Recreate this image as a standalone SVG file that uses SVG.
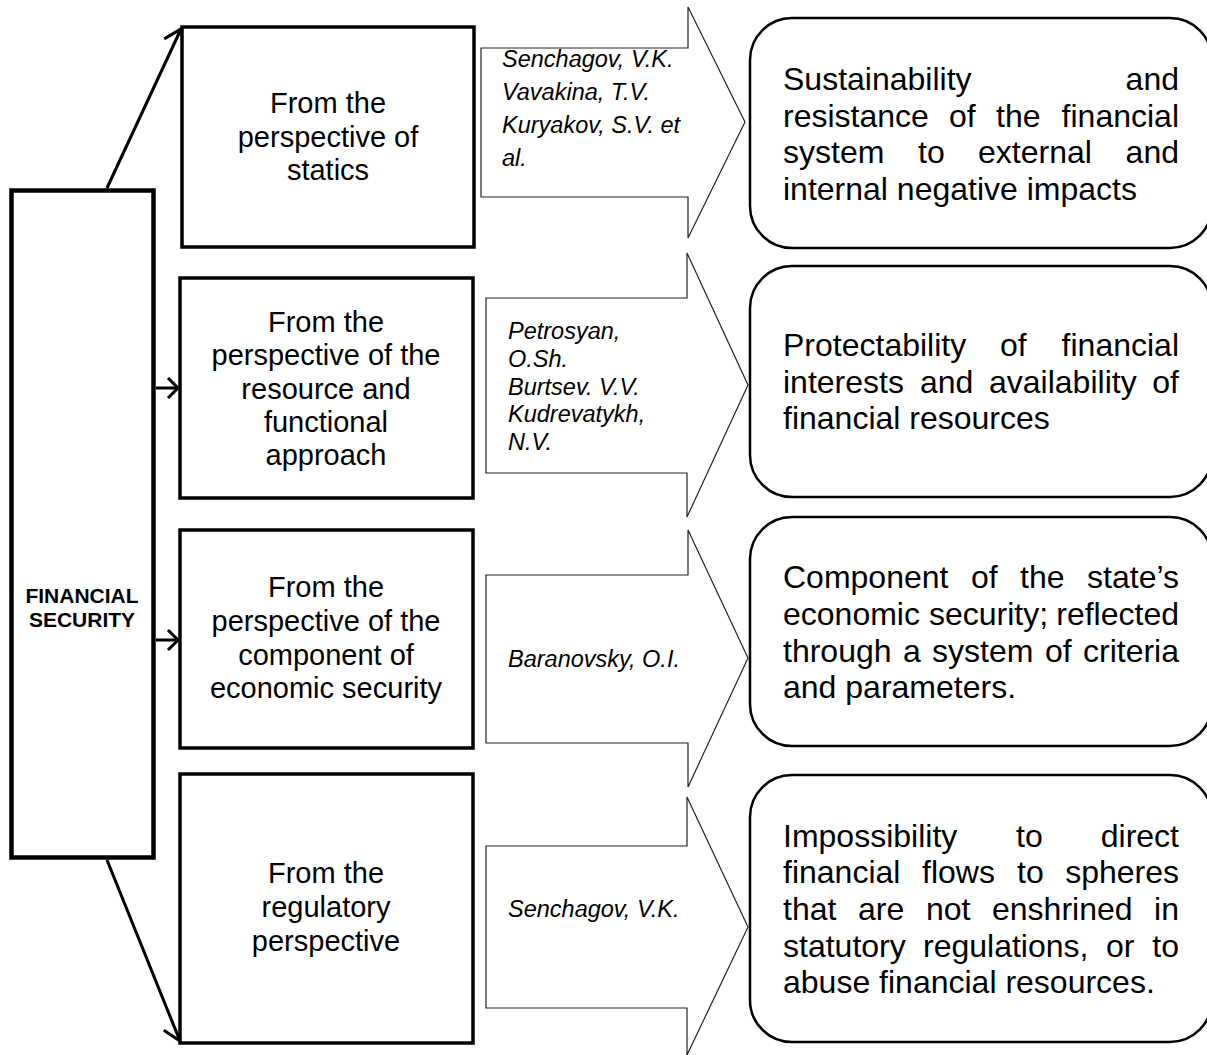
<svg xmlns="http://www.w3.org/2000/svg" width="1207" height="1055" viewBox="0 0 1207 1055">
<defs>
<style>
.mid{fill:#fff;stroke:#000;stroke-width:3.5}
.main{fill:#fff;stroke:#000;stroke-width:4.5}
.blk{fill:#fff;stroke:#222;stroke-width:1.2;stroke-linejoin:miter}
.res{fill:#fff;stroke:#000;stroke-width:2.5}
.conn{fill:none;stroke:#000;stroke-width:3}
.t29{font-family:"Liberation Sans",Arial,sans-serif;font-size:29px;fill:#000;text-anchor:middle}
.t32{font-family:"Liberation Sans",Arial,sans-serif;font-size:32px;fill:#000}
.it{font-family:"Liberation Sans",Arial,sans-serif;font-size:23.5px;font-style:italic;fill:#000}
.fs{font-family:"Liberation Sans",Arial,sans-serif;font-size:21px;font-weight:bold;fill:#000;text-anchor:middle}
.e{text-anchor:end}
</style>
<marker id="ahBig" markerUnits="userSpaceOnUse" markerWidth="30" markerHeight="30" refX="20" refY="15" orient="auto">
<path d="M4,4 L20,15 L4,26" fill="none" stroke="#000" stroke-width="3"/>
</marker>
<marker id="ahSmall" markerUnits="userSpaceOnUse" markerWidth="30" markerHeight="30" refX="20" refY="15" orient="auto">
<path d="M10,5 L20,15 L10,25" fill="none" stroke="#000" stroke-width="3"/>
</marker>
</defs>
<rect width="1207" height="1055" fill="#fff"/>

<g id="connectors">
<line class="conn" x1="107" y1="188" x2="181" y2="29" marker-end="url(#ahBig)"/>
<line class="conn" x1="156" y1="388" x2="178" y2="388" marker-end="url(#ahSmall)"/>
<line class="conn" x1="156" y1="640" x2="178" y2="640" marker-end="url(#ahSmall)"/>
<line class="conn" x1="107" y1="860" x2="180" y2="1041" marker-end="url(#ahBig)"/>
</g>

<g id="financial-security">
<rect class="main" x="11.5" y="190.5" width="142" height="667"/>
<text class="fs" x="82" y="603">FINANCIAL</text>
<text class="fs" x="82" y="627">SECURITY</text>
</g>

<g id="statics">
<rect class="mid" x="182" y="27" width="292" height="220"/>
<text class="t29" x="328" y="113">From the</text>
<text class="t29" x="328" y="147">perspective of</text>
<text class="t29" x="328" y="180">statics</text>
</g>

<g id="resource">
<rect class="mid" x="180" y="278" width="293" height="220"/>
<text class="t29" x="326" y="332">From the</text>
<text class="t29" x="326" y="365">perspective of the</text>
<text class="t29" x="326" y="399">resource and</text>
<text class="t29" x="326" y="432">functional</text>
<text class="t29" x="326" y="465">approach</text>
</g>

<g id="component">
<rect class="mid" x="180" y="530" width="293" height="218"/>
<text class="t29" x="326" y="597">From the</text>
<text class="t29" x="326" y="631">perspective of the</text>
<text class="t29" x="326" y="665">component of</text>
<text class="t29" x="326" y="698">economic security</text>
</g>

<g id="regulatory">
<rect class="mid" x="180" y="774" width="293" height="269"/>
<text class="t29" x="326" y="883">From the</text>
<text class="t29" x="326" y="917">regulatory</text>
<text class="t29" x="326" y="951">perspective</text>
</g>

<g id="authors-1">
<path class="blk" d="M481,48 H688 V7 L745,122 L688,238 V197 H481 Z"/>
<text class="it" x="502" y="67">Senchagov, V.K.</text>
<text class="it" x="502" y="100">Vavakina, T.V.</text>
<text class="it" x="502" y="133">Kuryakov, S.V. et</text>
<text class="it" x="502" y="166">al.</text>
</g>

<g id="authors-2">
<path class="blk" d="M486,298 H687 V253 L748,385 L687,517 V473 H486 Z"/>
<text class="it" x="508" y="339">Petrosyan,</text>
<text class="it" x="508" y="367">O.Sh.</text>
<text class="it" x="508" y="395">Burtsev. V.V.</text>
<text class="it" x="508" y="422">Kudrevatykh,</text>
<text class="it" x="508" y="450">N.V.</text>
</g>

<g id="authors-3">
<path class="blk" d="M486,575 H688 V530 L748,658 L688,787 V743 H486 Z"/>
<text class="it" x="508" y="667">Baranovsky, O.I.</text>
</g>

<g id="authors-4">
<path class="blk" d="M486,846 H687 V797 L748,927 L687,1055 V1008 H486 Z"/>
<text class="it" x="508" y="917">Senchagov, V.K.</text>
</g>

<g id="result-1">
<rect class="res" x="750" y="18" width="462" height="230" rx="42" ry="42"/>
<text class="t32" y="90"><tspan x="783">Sustainability</tspan><tspan class="e" x="1179">and</tspan></text>
<text class="t32" y="127"><tspan x="783">resistance</tspan><tspan x="949">of</tspan><tspan x="996">the</tspan><tspan class="e" x="1179">financial</tspan></text>
<text class="t32" y="163"><tspan x="783">system</tspan><tspan x="918">to</tspan><tspan x="978">external</tspan><tspan class="e" x="1179">and</tspan></text>
<text class="t32" x="783" y="200">internal negative impacts</text>
</g>

<g id="result-2">
<rect class="res" x="750" y="266" width="462" height="231" rx="42" ry="42"/>
<text class="t32" y="356"><tspan x="783">Protectability</tspan><tspan x="1000">of</tspan><tspan class="e" x="1179">financial</tspan></text>
<text class="t32" y="393"><tspan x="783">interests</tspan><tspan x="920">and</tspan><tspan x="989">availability</tspan><tspan class="e" x="1179">of</tspan></text>
<text class="t32" x="783" y="429">financial resources</text>
</g>

<g id="result-3">
<rect class="res" x="750" y="517" width="462" height="229" rx="42" ry="42"/>
<text class="t32" y="588"><tspan x="783">Component</tspan><tspan x="971">of</tspan><tspan x="1020">the</tspan><tspan class="e" x="1179">state’s</tspan></text>
<text class="t32" y="625"><tspan x="783">economic</tspan><tspan x="929">security;</tspan><tspan class="e" x="1179">reflected</tspan></text>
<text class="t32" y="662"><tspan x="783">through</tspan><tspan x="903">a</tspan><tspan x="932">system</tspan><tspan x="1045">of</tspan><tspan class="e" x="1179">criteria</tspan></text>
<text class="t32" x="783" y="698">and parameters.</text>
</g>

<g id="result-4">
<rect class="res" x="750" y="775" width="462" height="267" rx="42" ry="42"/>
<text class="t32" y="847"><tspan x="783">Impossibility</tspan><tspan x="1016">to</tspan><tspan class="e" x="1179">direct</tspan></text>
<text class="t32" y="883"><tspan x="783">financial</tspan><tspan x="922">flows</tspan><tspan x="1017">to</tspan><tspan class="e" x="1179">spheres</tspan></text>
<text class="t32" y="920"><tspan x="783">that</tspan><tspan x="858">are</tspan><tspan x="926">not</tspan><tspan x="992">enshrined</tspan><tspan class="e" x="1179">in</tspan></text>
<text class="t32" y="957"><tspan x="783">statutory</tspan><tspan x="923">regulations,</tspan><tspan x="1106">or</tspan><tspan class="e" x="1179">to</tspan></text>
<text class="t32" x="783" y="993">abuse financial resources.</text>
</g>
</svg>
